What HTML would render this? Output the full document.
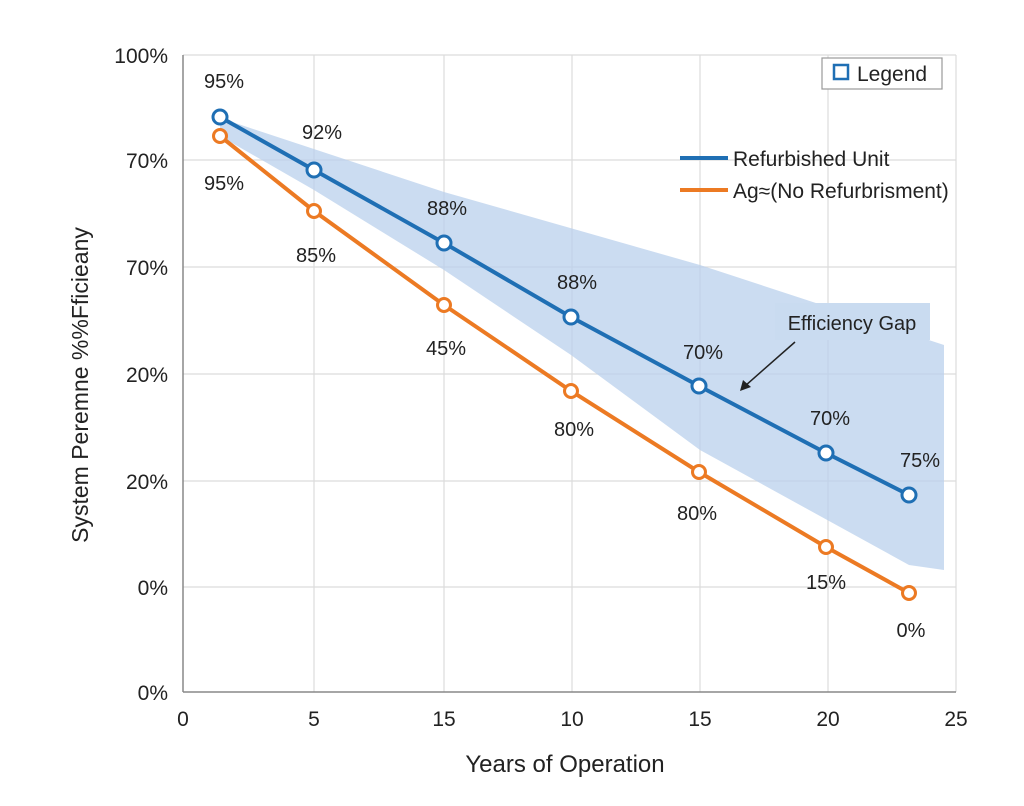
<!DOCTYPE html>
<html><head><meta charset="utf-8"><style>
html,body{margin:0;padding:0;background:#fff;}
svg{display:block;font-family:"Liberation Sans",sans-serif;}
</style></head><body>
<svg width="1024" height="806" viewBox="0 0 1024 806">
<rect width="1024" height="806" fill="#fff"/>
<g stroke="#dcdcdc" stroke-width="1.2">
<line x1="183" y1="55" x2="956" y2="55"/><line x1="183" y1="160" x2="956" y2="160"/>
<line x1="183" y1="267" x2="956" y2="267"/><line x1="183" y1="374" x2="956" y2="374"/>
<line x1="183" y1="481" x2="956" y2="481"/><line x1="183" y1="587" x2="956" y2="587"/>
<line x1="314" y1="55" x2="314" y2="692"/><line x1="444" y1="55" x2="444" y2="692"/>
<line x1="572" y1="55" x2="572" y2="692"/><line x1="700" y1="55" x2="700" y2="692"/>
<line x1="828" y1="55" x2="828" y2="692"/><line x1="956" y1="55" x2="956" y2="692"/>
</g>
<g stroke="#888" stroke-width="1.5"><line x1="183" y1="55" x2="183" y2="692"/><line x1="183" y1="692" x2="956" y2="692"/></g>
<polygon points="220,118 444,192 700,265 944,345 944,570 909,565 700,450 571,355 444,270 314,190 220,136" fill="#b9d0ec" opacity="0.75"/>
<polyline points="220,136 314,211 444,305 571,391 699,472 826,547 909,593" fill="none" stroke="#ec7a23" stroke-width="4"/>
<polyline points="220,117 314,170 444,243 571,317 699,386 826,453 909,495" fill="none" stroke="#1f6fb4" stroke-width="4"/>
<g fill="#fff" stroke="#ec7a23" stroke-width="3">
<circle cx="220" cy="136" r="6.5"/><circle cx="314" cy="211" r="6.5"/><circle cx="444" cy="305" r="6.5"/><circle cx="571" cy="391" r="6.5"/><circle cx="699" cy="472" r="6.5"/><circle cx="826" cy="547" r="6.5"/><circle cx="909" cy="593" r="6.5"/></g>
<g fill="#fff" stroke="#1f6fb4" stroke-width="3">
<circle cx="220" cy="117" r="7"/><circle cx="314" cy="170" r="7"/><circle cx="444" cy="243" r="7"/><circle cx="571" cy="317" r="7"/><circle cx="699" cy="386" r="7"/><circle cx="826" cy="453" r="7"/><circle cx="909" cy="495" r="7"/></g>
<g fill="#222" font-size="21" text-anchor="end">
<text x="168" y="63">100%</text><text x="168" y="168">70%</text><text x="168" y="275">70%</text>
<text x="168" y="382">20%</text><text x="168" y="489">20%</text><text x="168" y="595">0%</text><text x="168" y="700">0%</text></g>
<g fill="#222" font-size="21" text-anchor="middle">
<text x="183" y="726">0</text><text x="314" y="726">5</text><text x="444" y="726">15</text><text x="572" y="726">10</text>
<text x="700" y="726">15</text><text x="828" y="726">20</text><text x="956" y="726">25</text>
<text x="565" y="772" font-size="24">Years of Operation</text>
<text transform="translate(88,385) rotate(-90)" font-size="23">System Peremne %%Fficieany</text>
</g>
<g fill="#222" font-size="20" text-anchor="middle">
<text x="224" y="88">95%</text><text x="322" y="139">92%</text><text x="447" y="215">88%</text><text x="577" y="289">88%</text>
<text x="703" y="359">70%</text><text x="830" y="425">70%</text><text x="920" y="467">75%</text>
<text x="224" y="190">95%</text><text x="316" y="262">85%</text><text x="446" y="355">45%</text><text x="574" y="436">80%</text>
<text x="697" y="520">80%</text><text x="826" y="589">15%</text><text x="911" y="637">0%</text>
</g>
<rect x="822" y="58" width="120" height="31" fill="#fff" stroke="#999" stroke-width="1.2"/>
<rect x="834" y="65" width="14" height="14" fill="none" stroke="#1f6fb4" stroke-width="2.5"/>
<text x="857" y="81" font-size="21" fill="#222">Legend</text>
<line x1="680" y1="158" x2="728" y2="158" stroke="#1f6fb4" stroke-width="4"/>
<text x="733" y="166" font-size="21" fill="#222">Refurbished Unit</text>
<line x1="680" y1="190" x2="728" y2="190" stroke="#ec7a23" stroke-width="4"/>
<text x="733" y="198" font-size="21" fill="#222">Ag≈(No Refurbrisment)</text>
<rect x="775" y="303" width="155" height="37" fill="#c9dbf0"/>
<text x="852" y="330" font-size="20" fill="#222" text-anchor="middle">Efficiency Gap</text>
<line x1="795" y1="342" x2="745" y2="386" stroke="#222" stroke-width="1.5"/>
<polygon points="740,391 743,380 751,387" fill="#222"/>
</svg>
</body></html>
